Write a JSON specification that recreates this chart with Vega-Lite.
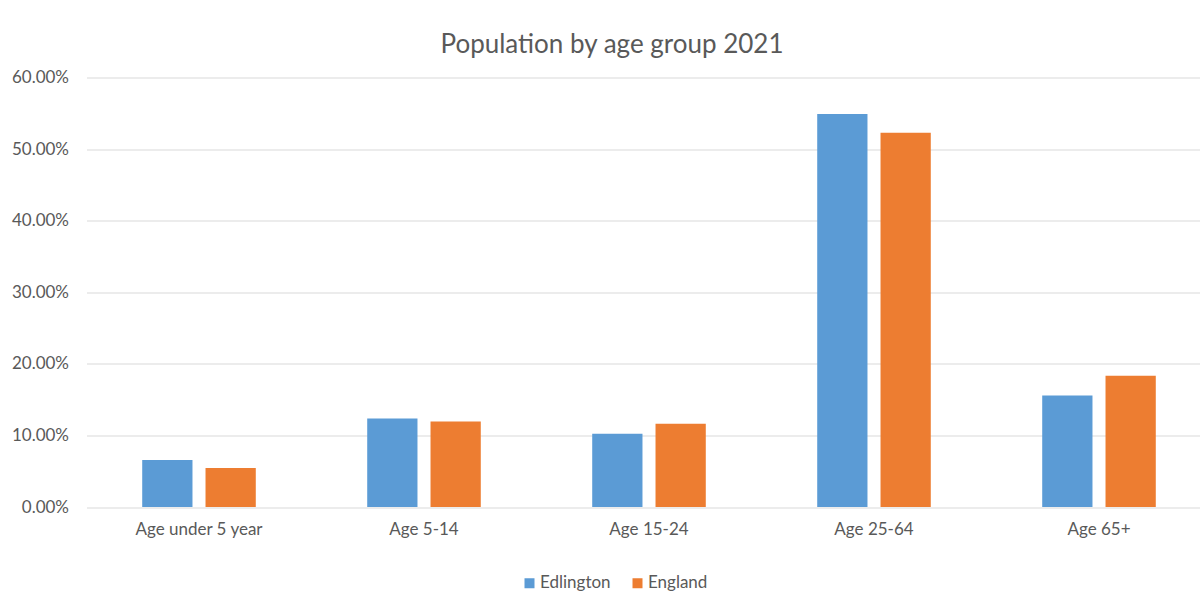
{
  "$schema": "https://vega.github.io/schema/vega-lite/v6.json",
  "width": 1125,
  "height": 429.5,
  "autosize": {"type": "none"},
  "padding": {"left": 86.5, "top": 77.5, "right": 0, "bottom": 97},
  "background": "white",
  "config": {"view": {"stroke": null}, "font": "Lato"},
  "title": {"text": "Population by age group 2021", "fontSize": 26, "fontWeight": "normal", "color": "#595959", "anchor": "middle", "frame": "group", "dx": -37, "offset": 11, "font": "Lato"},
  "data": {"values": [
    {"group": "Age under 5 year", "series": "Edlington", "value": 0.0657},
    {"group": "Age under 5 year", "series": "England", "value": 0.0545},
    {"group": "Age 5-14", "series": "Edlington", "value": 0.1235},
    {"group": "Age 5-14", "series": "England", "value": 0.1193},
    {"group": "Age 15-24", "series": "Edlington", "value": 0.1024},
    {"group": "Age 15-24", "series": "England", "value": 0.1163},
    {"group": "Age 25-64", "series": "Edlington", "value": 0.5489},
    {"group": "Age 25-64", "series": "England", "value": 0.5228},
    {"group": "Age 65+", "series": "Edlington", "value": 0.1558},
    {"group": "Age 65+", "series": "England", "value": 0.1835}
  ]},
  "mark": {"type": "bar"},
  "encoding": {
    "x": {"field": "group", "type": "nominal", "sort": ["Age under 5 year", "Age 5-14", "Age 15-24", "Age 25-64", "Age 65+"], "scale": {"paddingInner": 0, "paddingOuter": 0},
      "axis": {"title": null, "labelAngle": 0, "domain": false, "ticks": false, "labelFontSize": 17, "labelColor": "#595959", "labelPadding": 14}},
    "xOffset": {"field": "series", "type": "nominal", "sort": ["Edlington", "England"], "scale": {"paddingInner": 0.206, "paddingOuter": 0.88}},
    "y": {"field": "value", "type": "quantitative", "scale": {"domain": [0, 0.6]},
      "axis": {"values": [0, 0.1, 0.2, 0.3, 0.4, 0.5, 0.6], "format": ".2%", "title": null, "domain": false, "ticks": false, "gridColor": "#d9d9d9", "gridWidth": 1.2, "labelFontSize": 17, "labelColor": "#595959", "labelPadding": 18}},
    "color": {"field": "series", "type": "nominal", "scale": {"domain": ["Edlington", "England"], "range": ["#5B9BD5", "#ED7D31"]},
      "legend": {"title": null, "orient": "none", "legendX": 434.5, "legendY": 497, "direction": "horizontal", "symbolType": "square", "symbolSize": 100, "symbolStrokeWidth": 0, "labelFontSize": 17, "labelColor": "#595959", "labelOffset": 2, "columnPadding": 18}}
  }
}
